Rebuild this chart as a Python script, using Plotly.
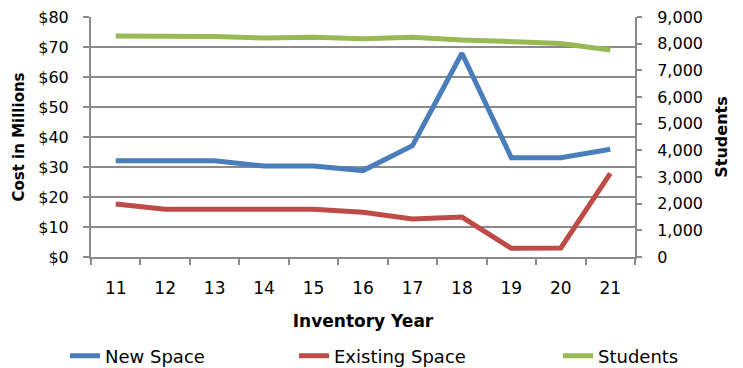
import plotly.graph_objects as go

years = ["11", "12", "13", "14", "15", "16", "17", "18", "19", "20", "21"]
new_space = [32.1, 32.1, 32.1, 30.3, 30.3, 28.8, 37.1, 67.9, 33.1, 33.1, 35.9]
existing_space = [17.7, 15.9, 15.9, 15.9, 15.9, 14.9, 12.7, 13.3, 2.9, 3.0, 27.9]
students = [8290, 8300, 8265, 8215, 8240, 8180, 8240, 8140, 8075, 8010, 7765]

FONT = "DejaVu Sans"
GRID = "#8a8a8a"

fig = go.Figure()
fig.add_trace(go.Scatter(x=years, y=new_space, name="New Space", mode="lines",
                         line=dict(color="#4a7ebb", width=5), legend="legend"))
fig.add_trace(go.Scatter(x=years, y=existing_space, name="Existing Space", mode="lines",
                         line=dict(color="#be4b48", width=5), legend="legend2"))
fig.add_trace(go.Scatter(x=years, y=students, name="Students", mode="lines", yaxis="y2",
                         line=dict(color="#98b954", width=5), legend="legend3"))

# one legend per entry so each can sit where the original puts it
leg = dict(orientation="h", xref="container", yref="container", yanchor="middle",
           y=0.0333, xanchor="left", bgcolor="rgba(0,0,0,0)",
           font=dict(family=FONT, size=18, color="black"))

# page body adds an 8px margin, so the figure is 8px smaller each way
fig.update_layout(
    width=735, height=360,
    margin=dict(l=83, r=108, t=9, b=111),
    paper_bgcolor="white", plot_bgcolor="white",
    font=dict(family=FONT, size=17, color="black"),
    xaxis=dict(type="category", range=[-0.5, 10.5], tickson="boundaries", ticks="outside",
               ticklen=6, tickcolor=GRID, tickwidth=2, showline=True, linecolor=GRID,
               linewidth=2, showgrid=False, ticklabelstandoff=15, automargin=False,
               title=dict(text="<b>Inventory Year</b>", font=dict(size=17), standoff=18)),
    yaxis=dict(range=[0, 80], dtick=10, tickprefix="$", ticks="outside", ticklen=6,
               tickcolor=GRID, tickwidth=2, showline=True, linecolor=GRID, linewidth=2,
               gridcolor=GRID, gridwidth=1.5, zeroline=False, ticklabelstandoff=11,
               automargin=False, tickfont=dict(size=16), ticklabeloverflow="allow",
               title=dict(text="<b>Cost in Millions</b>", font=dict(size=15), standoff=10)),
    yaxis2=dict(range=[0, 9000], dtick=1000, tickformat=",", overlaying="y", side="right",
                ticks="outside", ticklen=5, tickcolor=GRID, tickwidth=2, showline=True,
                linecolor=GRID, linewidth=2, showgrid=False, zeroline=False,
                ticklabelstandoff=12, automargin=False, tickfont=dict(size=16),
                ticklabeloverflow="allow",
                title=dict(text="<b>Students</b>", font=dict(size=16), standoff=14)),
    legend=dict(leg, x=0.0776),
    legend2=dict(leg, x=0.3891),
    legend3=dict(leg, x=0.7483),
    showlegend=True,
)

fig.write_html("out.html")
